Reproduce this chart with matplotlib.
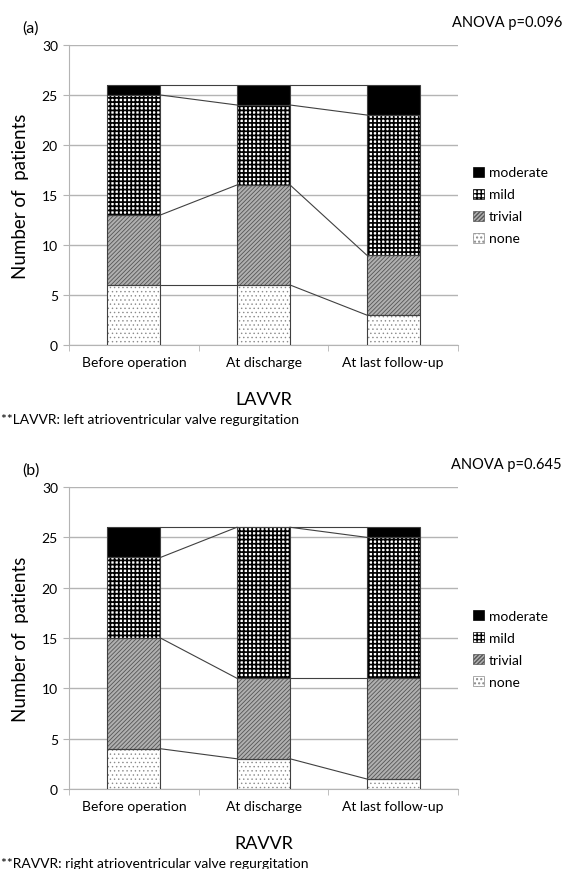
import matplotlib.pyplot as plt
import numpy as np

plt.rcParams['font.family'] = ['Lato', 'DejaVu Sans']

categories = ["Before operation", "At discharge", "At last follow-up"]
levels = ["none", "trivial", "mild", "moderate"]

# panel (a) LAVVR
lavvr_none = [6, 6, 3]
lavvr_trivial = [7, 10, 6]
lavvr_mild = [12, 8, 14]
lavvr_moderate = [1, 2, 3]

# panel (b) RAVVR
ravvr_none = [4, 3, 1]
ravvr_trivial = [11, 8, 10]
ravvr_mild = [8, 15, 14]
ravvr_moderate = [3, 0, 1]

styles = {
    "none": dict(fc="white", hc="#8a8a8a", hatch="....", hlw=0.5),
    "trivial": dict(fc="#b0b0b0", hc="#555555", hatch="////////", hlw=0.6),
    "mild": dict(fc="white", hc="black", hatch="++++", hlw=1.25),
    "moderate": dict(fc="black", hc="black", hatch=None, hlw=0.5),
}

grid_col = "#b4b4b4"
edge_col = "#404040"
bar_w = 0.41
W, H = 563, 870


def px(y):
    return 1 - y / H


def draw_panel(ax, series, xlabel, note, tag, anova):
    x = np.arange(len(categories))
    bottom = np.zeros(len(categories))
    handles = []
    for name, vals in zip(levels, series):
        vals = np.array(vals, dtype=float)
        st = styles[name]
        with plt.rc_context({'hatch.linewidth': st["hlw"]}):
            ax.bar(x, vals, bar_w, bottom=bottom, color=st["fc"], edgecolor=st["hc"],
                   hatch=st["hatch"], linewidth=0, zorder=3)
            handles.append(plt.Rectangle((0, 0), 1, 1, facecolor=st["fc"],
                                         edgecolor=st["hc"], hatch=st["hatch"],
                                         linewidth=0.5))
        ax.bar(x, vals, bar_w, bottom=bottom, fill=False, edgecolor=edge_col,
               linewidth=0.8, zorder=4)
        top = bottom + vals
        # series lines between neighbouring bars
        for i in range(len(categories) - 1):
            ax.plot([x[i] + bar_w / 2, x[i + 1] - bar_w / 2], [top[i], top[i + 1]],
                    color=edge_col, lw=0.8, zorder=4)
        bottom = top

    ax.set_xlim(-0.5, len(categories) - 0.5)
    ax.set_ylim(0, 30)
    ax.set_yticks(range(0, 31, 5))
    ax.yaxis.grid(True, color=grid_col, lw=1, zorder=0)
    ax.set_xticks(x)
    ax.set_xticklabels(categories, fontsize=10)
    ax.set_xticks(np.arange(-0.5, len(categories)), minor=True)
    ax.tick_params(axis="x", which="major", length=0, pad=8)
    ax.tick_params(axis="x", which="minor", length=4, color=grid_col)
    ax.tick_params(axis="y", labelsize=10, length=4, color=grid_col, pad=4)
    for s in ["top", "right"]:
        ax.spines[s].set_visible(False)
    ax.spines["left"].set_color(grid_col)
    ax.spines["bottom"].set_color(grid_col)
    ax.set_ylabel("Number of  patients", fontsize=13.5, labelpad=9)

    ax.legend(handles[::-1], levels[::-1], loc="center left",
              bbox_to_anchor=(1.025, 0.465), frameon=False, fontsize=10,
              handlelength=0.75, handleheight=0.75, handletextpad=0.35,
              labelspacing=0.72, borderaxespad=0)

    fig = ax.figure
    bb = ax.get_position()
    y0 = (1 - bb.y0) * H
    y1 = (1 - bb.y1) * H
    xc = (bb.x0 + bb.x1) / 2
    fig.text(22 / W, px(y1 - 17), tag, fontsize=11.5, va="center")
    fig.text(562 / W, px(y1 - 23), anova, fontsize=10.5, va="center", ha="right")
    fig.text(xc, px(y0 + 54), xlabel, fontsize=13, va="center", ha="center")
    fig.text(1 / W, px(y0 + 74), note, fontsize=10, va="center")


fig = plt.figure(figsize=(W / 100, H / 100), dpi=100)
ax1 = fig.add_axes([69 / W, px(346), 389 / W, 300 / H])
ax2 = fig.add_axes([69 / W, px(790), 389 / W, 302 / H])

draw_panel(ax1, [lavvr_none, lavvr_trivial, lavvr_mild, lavvr_moderate], "LAVVR",
           "**LAVVR: left atrioventricular valve regurgitation", "(a)", "ANOVA p=0.096")
draw_panel(ax2, [ravvr_none, ravvr_trivial, ravvr_mild, ravvr_moderate], "RAVVR",
           "**RAVVR: right atrioventricular valve regurgitation", "(b)", "ANOVA p=0.645")

fig.savefig("out.png", dpi=100)
